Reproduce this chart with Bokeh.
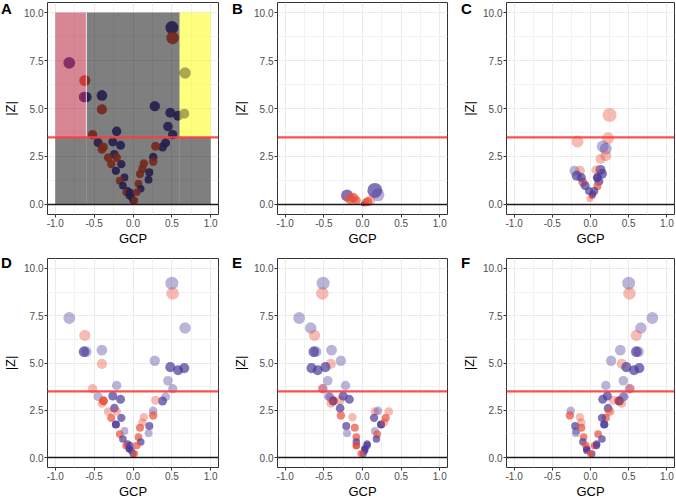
from bokeh.plotting import figure
from bokeh.models import (Range1d, FixedTicker, Span, ColumnDataSource, NumeralTickFormatter,
                          GridBox, Div)
from bokeh.embed import file_html
from bokeh.resources import INLINE

# ---------------- data ----------------
# Panels A, D, E, F share |Z| values, groups and weights; GCP differs per panel
z_vals = [9.22, 8.68, 7.38, 6.85, 6.46, 5.60, 5.60, 5.68, 4.95, 5.12, 4.78, 4.62, 4.73, 4.06, 3.64, 3.64,
          3.81, 3.23, 3.21, 3.00, 2.99, 2.87, 3.03, 3.26, 3.08, 2.61, 2.44, 2.44, 2.10, 2.10, 1.75, 1.41,
          1.24, 0.98, 0.72, 0.63, 0.46, 0.20, 2.47, 2.23, 2.13, 1.85, 1.67, 1.58, 1.29, 1.08, 0.82, 0.64,
          0.38, 0.21, 0.64]
groups = ["P", "R", "P", "P", "R", "P", "P", "P", "R", "P", "P", "P", "P", "P", "P", "R",
          "P", "P", "P", "R", "P", "R", "R", "P", "P", "P", "R", "R", "R", "P", "P", "P",
          "R", "P", "P", "R", "P", "P", "P", "R", "R", "R", "P", "R", "P", "R", "P", "R",
          "P", "R", "P"]
weights = ["L", "L", "L", "L", "L", "M", "L", "L", "L", "L", "M", "M", "M", "L", "L", "L",
           "L", "L", "L", "S", "M", "L", "L", "M", "M", "M", "L", "L", "M", "M", "S", "L",
           "M", "M", "M", "M", "S", "M", "L", "M", "L", "L", "M", "M", "L", "M", "M", "M",
           "M", "M", "M"]
gcp_d = [0.50, 0.51, -0.82, 0.67, -0.62, -0.63, -0.60, -0.40, -0.40, 0.28, 0.48, 0.58, 0.66, 0.45, 0.51, -0.52,
         -0.21, -0.45, 0.42, -0.38, 0.38, -0.40, 0.29, -0.26, -0.16, -0.24, -0.32, -0.21, -0.28, -0.15, -0.22, -0.11,
         -0.17, -0.13, -0.07, -0.09, -0.05, 0.00, 0.26, 0.26, 0.14, 0.12, 0.21, 0.09, 0.20, 0.07, 0.10, 0.05,
         -0.02, 0.02, -0.04]
gcp_e = [-0.51, -0.52, -0.82, -0.67, -0.62, -0.63, -0.60, -0.40, -0.41, -0.28, -0.48, -0.58, -0.66, -0.45, -0.51, -0.52,
         -0.22, -0.44, -0.42, -0.38, -0.38, -0.41, -0.29, -0.25, -0.17, -0.29, 0.34, 0.16, 0.30, 0.15, 0.24, 0.16,
         0.19, 0.18, 0.06, -0.08, 0.03, 0.01, 0.20, -0.28, -0.13, 0.28, -0.21, -0.10, -0.20, -0.08, -0.08, -0.08,
         0.03, -0.02, 0.06]
gcp_f = [0.50, 0.51, 0.81, 0.66, 0.60, 0.60, 0.63, 0.39, 0.41, 0.27, 0.47, 0.57, 0.64, 0.43, 0.51, 0.52,
         0.20, 0.43, 0.44, 0.37, 0.38, 0.41, 0.30, 0.22, 0.16, 0.23, 0.26, 0.24, 0.20, 0.15, 0.18, -0.19,
         0.10, 0.15, 0.08, 0.05, -0.05, 0.02, -0.26, -0.27, -0.14, -0.12, -0.20, -0.12, -0.19, -0.09, -0.10, -0.06,
         -0.05, 0.00, 0.08]

# Panel B
gcp_b = [-0.20, -0.16, -0.08, 0.16, 0.20, 0.07, 0.01, 0.10, -0.12, 0.04]
z_b = [0.47, 0.30, 0.20, 0.73, 0.50, 0.15, 0.03, 0.20, 0.35, 0.10]
groups_b = ["P", "R", "R", "P", "P", "R", "P", "R", "R", "R"]
weights_b = ["M", "M", "M", "M", "L", "M", "S", "L", "M", "M"]
sizes_b = [12, 11, 9, 15, 13, 9, 5, 10, 10, 8]

# Panel C
gcp_c = [0.25, -0.17, 0.23, 0.16, 0.20, 0.20, 0.13, -0.21, -0.14, -0.18, 0.13, 0.15,
         -0.10, -0.07, 0.11, 0.09, 0.05, 0.02, -0.01, 0.03, 0.09, 0.07, -0.02, -0.12]
z_c = [4.66, 3.28, 3.45, 3.02, 2.90, 2.54, 2.37, 1.76, 1.76, 1.50, 1.80, 1.60,
       1.16, 0.98, 1.20, 0.95, 0.70, 0.45, 0.30, 0.55, 1.40, 1.80, 0.70, 1.40]
groups_c = ["R", "R", "R", "P", "P", "R", "R", "P", "R", "P", "P", "P",
            "R", "P", "P", "R", "P", "R", "R", "P", "P", "R", "P", "P"]
weights_c = ["L", "L", "L", "L", "L", "L", "L", "L", "L", "M", "M", "M",
             "M", "M", "M", "M", "M", "M", "L", "M", "S", "L", "M", "M"]
sizes_c = [14, 12, 12, 12, 12, 11, 10, 10, 10, 10, 10, 10, 9, 9, 9, 8, 8, 7, 7, 7, 9, 9, 8, 9]

# thresholds and panel-A regions
z_threshold = 3.5
region_grey = dict(left=[-0.6, -1.0, 0.6], right=[0.6, -0.6, 1.0], bottom=[0, 0, 0], top=[10, 3.5, 3.5])
region_pink = dict(left=[-1.0], right=[-0.6], bottom=[3.5], top=[10])
region_yellow = dict(left=[0.6], right=[1.0], bottom=[3.5], top=[10])
panel_letters = ["A", "B", "C", "D", "E", "F"]

# ---------------- style ----------------
COL = {"P": "#4b3b9a", "R": "#e8503a"}
ALPHA = {"L": 0.38, "M": 0.7, "S": 0.9}
FONT = "Liberation Sans"
COL_W = [230, 229, 216]          # figure widths per column
COL_RB = [12, 12, 1]             # right borders per column
ROW_H = [250, 251]               # figure heights per row
ROW_TB = [(2, 36), (8, 34)]      # (top, bottom) borders per row


def def_sizes(zs):
    return [7.0 + 0.65 * z for z in zs]


def make_fig(r, c):
    p = figure(width=COL_W[c], height=ROW_H[r],
               x_range=Range1d(-1.1, 1.1), y_range=Range1d(-0.525, 10.525),
               output_backend="svg", toolbar_location=None,
               min_border_left=44, min_border_right=COL_RB[c],
               min_border_top=ROW_TB[r][0], min_border_bottom=ROW_TB[r][1])
    p.xaxis.ticker = FixedTicker(ticks=[-1, -0.5, 0, 0.5, 1], minor_ticks=[-0.75, -0.25, 0.25, 0.75])
    p.yaxis.ticker = FixedTicker(ticks=[0, 2.5, 5, 7.5, 10], minor_ticks=[1.25, 3.75, 6.25, 8.75])
    p.xaxis.formatter = NumeralTickFormatter(format="0.0")
    p.yaxis.formatter = NumeralTickFormatter(format="0.0")
    p.xaxis.axis_label = "GCP"
    p.yaxis.axis_label = "|Z|"
    for ax in (p.xaxis, p.yaxis):
        ax.axis_label_text_font = FONT
        ax.axis_label_text_font_size = "13px"
        ax.axis_label_text_font_style = "normal"
        ax.axis_label_text_color = "black"
        ax.axis_label_standoff = 1
        ax.major_label_text_font = FONT
        ax.major_label_text_font_size = "10px"
        ax.major_label_text_color = "#4d4d4d"
        ax.major_label_standoff = 1
        ax.major_tick_out = 3
        ax.major_tick_in = 0
        ax.minor_tick_out = 0
        ax.minor_tick_in = 0
        ax.major_tick_line_color = "#333333"
        ax.axis_line_color = None
    p.yaxis.axis_label_standoff = 3
    for g in (p.xgrid, p.ygrid):
        g.grid_line_color = "#ebebeb"
        g.grid_line_width = 1
        g.minor_grid_line_color = "#f2f2f2"
        g.minor_grid_line_width = 1
    p.outline_line_color = "#333333"
    p.outline_line_width = 1
    p.outline_line_alpha = 1
    return p


def add_points(p, xs, zs, grps, wts, sizes, alpha_override=None):
    src = ColumnDataSource(dict(
        x=xs, y=zs, size=sizes,
        color=[COL[g] for g in grps],
        alpha=[alpha_override if alpha_override is not None else ALPHA[w] for w in wts]))
    p.scatter("x", "y", size="size", fill_color="color", fill_alpha="alpha",
              line_color=None, source=src)


def add_lines(p):
    p.add_layout(Span(location=0, dimension="width", line_color="#1a1a1a", line_width=1.5))
    p.add_layout(Span(location=z_threshold, dimension="width", line_color="#ff3b3b",
                      line_alpha=0.9, line_width=2.2))


pA = make_fig(0, 0)
add_points(pA, gcp_d, z_vals, groups, weights, def_sizes(z_vals), alpha_override=0.9)
pA.quad(source=ColumnDataSource(region_grey), left="left", right="right", bottom="bottom", top="top",
        fill_color="black", fill_alpha=0.5, line_color=None)
pA.quad(source=ColumnDataSource(region_pink), left="left", right="right", bottom="bottom", top="top",
        fill_color="#b0102a", fill_alpha=0.5, line_color=None)
pA.quad(source=ColumnDataSource(region_yellow), left="left", right="right", bottom="bottom", top="top",
        fill_color="#ffff00", fill_alpha=0.5, line_color=None)
# thin light seam on the pink/grey boundary
pA.segment(x0="right", y0="bottom", x1="right", y1="top", source=ColumnDataSource(region_pink),
           line_color="white", line_width=1, line_alpha=0.8)
add_lines(pA)

pB = make_fig(0, 1)
add_points(pB, gcp_b, z_b, groups_b, weights_b, sizes_b)
add_lines(pB)

pC = make_fig(0, 2)
add_points(pC, gcp_c, z_c, groups_c, weights_c, sizes_c)
add_lines(pC)

pD = make_fig(1, 0)
add_points(pD, gcp_d, z_vals, groups, weights, def_sizes(z_vals))
add_lines(pD)

pE = make_fig(1, 1)
add_points(pE, gcp_e, z_vals, groups, weights, def_sizes(z_vals))
add_lines(pE)

pF = make_fig(1, 2)
add_points(pF, gcp_f, z_vals, groups, weights, def_sizes(z_vals))
add_lines(pF)

figs = [pA, pB, pC, pD, pE, pF]
children = []
for i, f in enumerate(figs):
    children.append((f, i // 3, i % 3))
for i, letter in enumerate(panel_letters):
    d = Div(text=letter, width=14, height=18, align="start",
            styles={"font-family": FONT, "font-size": "15px", "font-weight": "bold",
                    "color": "black", "line-height": "18px", "position": "relative",
                    "z-index": "10", "margin-left": "1px" if i % 3 == 0 else "2px",
                    "margin-top": "0px" if i < 3 else "4px"})
    children.append((d, i // 3, i % 3))

layout = GridBox(children=children, spacing=0)
open("out.html", "w").write(file_html(layout, INLINE))
